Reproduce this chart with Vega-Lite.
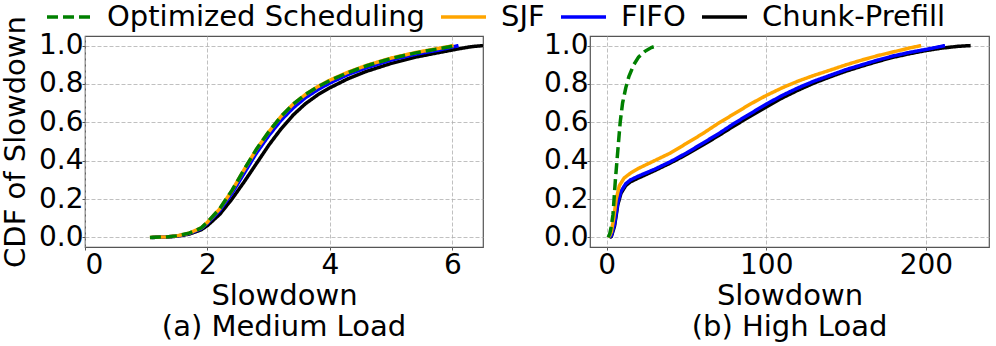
{
  "$schema": "https://vega.github.io/schema/vega-lite/v6.json",
  "padding": 0,
  "background": "white",
  "bounds": "flush",
  "spacing": 107,
  "config": {
    "font": "DejaVu Sans",
    "view": {"stroke": "#555555", "strokeWidth": 1.2},
    "axis": {
      "labelFont": "DejaVu Sans", "titleFont": "DejaVu Sans",
      "labelFontSize": 28, "titleFontSize": 29,
      "labelColor": "black", "titleColor": "black",
      "titleFontWeight": "normal",
      "grid": true, "gridColor": "#b0b0b0", "gridDash": [4, 2], "gridWidth": 0.8,
      "domain": false, "tickSize": 3, "tickColor": "#555555"
    },
    "axisX": {"labelPadding": 1},
    "axisY": {"labelPadding": -1},
    "title": {"font": "DejaVu Sans", "fontSize": 29, "fontWeight": "normal", "color": "black", "orient": "bottom", "anchor": "middle", "offset": 3},
    "legend": {
      "labelFont": "DejaVu Sans", "labelFontSize": 29, "labelColor": "black", "labelLimit": 0, "padding": 0
    }
  },
  "datasets": {
    "medium": [
      {"series": "Optimized Scheduling", "x": 1.06, "y": 0}, {"series": "Optimized Scheduling", "x": 1.3, "y": 0.002}, {"series": "Optimized Scheduling", "x": 1.5, "y": 0.008}, {"series": "Optimized Scheduling", "x": 1.7, "y": 0.022}, {"series": "Optimized Scheduling", "x": 1.9, "y": 0.05}, {"series": "Optimized Scheduling", "x": 2.0, "y": 0.08}, {"series": "Optimized Scheduling", "x": 2.2, "y": 0.15}, {"series": "Optimized Scheduling", "x": 2.4, "y": 0.245}, {"series": "Optimized Scheduling", "x": 2.6, "y": 0.355}, {"series": "Optimized Scheduling", "x": 2.8, "y": 0.46}, {"series": "Optimized Scheduling", "x": 3.0, "y": 0.55}, {"series": "Optimized Scheduling", "x": 3.2, "y": 0.63}, {"series": "Optimized Scheduling", "x": 3.4, "y": 0.695}, {"series": "Optimized Scheduling", "x": 3.6, "y": 0.745}, {"series": "Optimized Scheduling", "x": 3.8, "y": 0.785}, {"series": "Optimized Scheduling", "x": 4.0, "y": 0.818}, {"series": "Optimized Scheduling", "x": 4.3, "y": 0.86}, {"series": "Optimized Scheduling", "x": 4.6, "y": 0.895}, {"series": "Optimized Scheduling", "x": 5.0, "y": 0.933}, {"series": "Optimized Scheduling", "x": 5.4, "y": 0.962}, {"series": "Optimized Scheduling", "x": 5.8, "y": 0.985}, {"series": "Optimized Scheduling", "x": 6.05, "y": 1.0},
      {"series": "SJF", "x": 1.06, "y": 0}, {"series": "SJF", "x": 1.3, "y": 0.002}, {"series": "SJF", "x": 1.5, "y": 0.008}, {"series": "SJF", "x": 1.7, "y": 0.022}, {"series": "SJF", "x": 1.9, "y": 0.05}, {"series": "SJF", "x": 2.0, "y": 0.079}, {"series": "SJF", "x": 2.2, "y": 0.149}, {"series": "SJF", "x": 2.4, "y": 0.244}, {"series": "SJF", "x": 2.6, "y": 0.354}, {"series": "SJF", "x": 2.8, "y": 0.459}, {"series": "SJF", "x": 3.0, "y": 0.55}, {"series": "SJF", "x": 3.2, "y": 0.63}, {"series": "SJF", "x": 3.4, "y": 0.695}, {"series": "SJF", "x": 3.6, "y": 0.745}, {"series": "SJF", "x": 3.8, "y": 0.786}, {"series": "SJF", "x": 4.0, "y": 0.82}, {"series": "SJF", "x": 4.3, "y": 0.862}, {"series": "SJF", "x": 4.6, "y": 0.897}, {"series": "SJF", "x": 5.0, "y": 0.935}, {"series": "SJF", "x": 5.4, "y": 0.964}, {"series": "SJF", "x": 5.8, "y": 0.987}, {"series": "SJF", "x": 6.02, "y": 1.0},
      {"series": "FIFO", "x": 1.08, "y": 0}, {"series": "FIFO", "x": 1.3, "y": 0.002}, {"series": "FIFO", "x": 1.5, "y": 0.007}, {"series": "FIFO", "x": 1.7, "y": 0.02}, {"series": "FIFO", "x": 1.9, "y": 0.046}, {"series": "FIFO", "x": 2.0, "y": 0.074}, {"series": "FIFO", "x": 2.2, "y": 0.14}, {"series": "FIFO", "x": 2.4, "y": 0.23}, {"series": "FIFO", "x": 2.6, "y": 0.335}, {"series": "FIFO", "x": 2.8, "y": 0.44}, {"series": "FIFO", "x": 3.0, "y": 0.53}, {"series": "FIFO", "x": 3.2, "y": 0.61}, {"series": "FIFO", "x": 3.4, "y": 0.675}, {"series": "FIFO", "x": 3.6, "y": 0.728}, {"series": "FIFO", "x": 3.8, "y": 0.77}, {"series": "FIFO", "x": 4.0, "y": 0.805}, {"series": "FIFO", "x": 4.3, "y": 0.85}, {"series": "FIFO", "x": 4.6, "y": 0.885}, {"series": "FIFO", "x": 5.0, "y": 0.925}, {"series": "FIFO", "x": 5.4, "y": 0.955}, {"series": "FIFO", "x": 5.8, "y": 0.978}, {"series": "FIFO", "x": 6.1, "y": 1.0},
      {"series": "Chunk-Prefill", "x": 1.1, "y": 0}, {"series": "Chunk-Prefill", "x": 1.3, "y": 0.001}, {"series": "Chunk-Prefill", "x": 1.5, "y": 0.006}, {"series": "Chunk-Prefill", "x": 1.7, "y": 0.017}, {"series": "Chunk-Prefill", "x": 1.9, "y": 0.04}, {"series": "Chunk-Prefill", "x": 2.0, "y": 0.062}, {"series": "Chunk-Prefill", "x": 2.2, "y": 0.12}, {"series": "Chunk-Prefill", "x": 2.4, "y": 0.2}, {"series": "Chunk-Prefill", "x": 2.6, "y": 0.29}, {"series": "Chunk-Prefill", "x": 2.8, "y": 0.385}, {"series": "Chunk-Prefill", "x": 3.0, "y": 0.48}, {"series": "Chunk-Prefill", "x": 3.2, "y": 0.565}, {"series": "Chunk-Prefill", "x": 3.4, "y": 0.638}, {"series": "Chunk-Prefill", "x": 3.6, "y": 0.697}, {"series": "Chunk-Prefill", "x": 3.8, "y": 0.743}, {"series": "Chunk-Prefill", "x": 4.0, "y": 0.78}, {"series": "Chunk-Prefill", "x": 4.3, "y": 0.828}, {"series": "Chunk-Prefill", "x": 4.6, "y": 0.866}, {"series": "Chunk-Prefill", "x": 5.0, "y": 0.907}, {"series": "Chunk-Prefill", "x": 5.4, "y": 0.94}, {"series": "Chunk-Prefill", "x": 5.8, "y": 0.965}, {"series": "Chunk-Prefill", "x": 6.1, "y": 0.983}, {"series": "Chunk-Prefill", "x": 6.3, "y": 0.994}, {"series": "Chunk-Prefill", "x": 6.5, "y": 1.0}
    ],
    "high": [
      {"series": "Optimized Scheduling", "x": 1, "y": 0}, {"series": "Optimized Scheduling", "x": 2, "y": 0.02}, {"series": "Optimized Scheduling", "x": 3, "y": 0.06}, {"series": "Optimized Scheduling", "x": 4, "y": 0.12}, {"series": "Optimized Scheduling", "x": 4.5, "y": 0.18}, {"series": "Optimized Scheduling", "x": 5.5, "y": 0.3}, {"series": "Optimized Scheduling", "x": 6.5, "y": 0.4}, {"series": "Optimized Scheduling", "x": 7.5, "y": 0.5}, {"series": "Optimized Scheduling", "x": 8.5, "y": 0.6}, {"series": "Optimized Scheduling", "x": 10, "y": 0.7}, {"series": "Optimized Scheduling", "x": 12, "y": 0.78}, {"series": "Optimized Scheduling", "x": 14, "y": 0.84}, {"series": "Optimized Scheduling", "x": 17, "y": 0.9}, {"series": "Optimized Scheduling", "x": 20, "y": 0.94}, {"series": "Optimized Scheduling", "x": 24, "y": 0.97}, {"series": "Optimized Scheduling", "x": 28, "y": 0.99}, {"series": "Optimized Scheduling", "x": 32, "y": 1.0},
      {"series": "SJF", "x": 1, "y": 0}, {"series": "SJF", "x": 2, "y": 0.01}, {"series": "SJF", "x": 3, "y": 0.03}, {"series": "SJF", "x": 4.5, "y": 0.1}, {"series": "SJF", "x": 6, "y": 0.2}, {"series": "SJF", "x": 8, "y": 0.27}, {"series": "SJF", "x": 11, "y": 0.31}, {"series": "SJF", "x": 15, "y": 0.335}, {"series": "SJF", "x": 20, "y": 0.36}, {"series": "SJF", "x": 30, "y": 0.4}, {"series": "SJF", "x": 40, "y": 0.44}, {"series": "SJF", "x": 50, "y": 0.49}, {"series": "SJF", "x": 60, "y": 0.54}, {"series": "SJF", "x": 70, "y": 0.595}, {"series": "SJF", "x": 80, "y": 0.645}, {"series": "SJF", "x": 90, "y": 0.695}, {"series": "SJF", "x": 100, "y": 0.74}, {"series": "SJF", "x": 110, "y": 0.78}, {"series": "SJF", "x": 120, "y": 0.815}, {"series": "SJF", "x": 130, "y": 0.845}, {"series": "SJF", "x": 140, "y": 0.872}, {"series": "SJF", "x": 150, "y": 0.9}, {"series": "SJF", "x": 160, "y": 0.925}, {"series": "SJF", "x": 170, "y": 0.948}, {"series": "SJF", "x": 180, "y": 0.968}, {"series": "SJF", "x": 190, "y": 0.988}, {"series": "SJF", "x": 197, "y": 1.0},
      {"series": "FIFO", "x": 1.5, "y": 0}, {"series": "FIFO", "x": 3, "y": 0.01}, {"series": "FIFO", "x": 5, "y": 0.07}, {"series": "FIFO", "x": 7, "y": 0.18}, {"series": "FIFO", "x": 9, "y": 0.24}, {"series": "FIFO", "x": 12, "y": 0.28}, {"series": "FIFO", "x": 15, "y": 0.3}, {"series": "FIFO", "x": 20, "y": 0.32}, {"series": "FIFO", "x": 30, "y": 0.355}, {"series": "FIFO", "x": 40, "y": 0.395}, {"series": "FIFO", "x": 50, "y": 0.44}, {"series": "FIFO", "x": 60, "y": 0.49}, {"series": "FIFO", "x": 70, "y": 0.54}, {"series": "FIFO", "x": 80, "y": 0.595}, {"series": "FIFO", "x": 90, "y": 0.645}, {"series": "FIFO", "x": 100, "y": 0.695}, {"series": "FIFO", "x": 110, "y": 0.74}, {"series": "FIFO", "x": 120, "y": 0.78}, {"series": "FIFO", "x": 130, "y": 0.815}, {"series": "FIFO", "x": 140, "y": 0.845}, {"series": "FIFO", "x": 150, "y": 0.875}, {"series": "FIFO", "x": 160, "y": 0.9}, {"series": "FIFO", "x": 170, "y": 0.925}, {"series": "FIFO", "x": 180, "y": 0.947}, {"series": "FIFO", "x": 190, "y": 0.965}, {"series": "FIFO", "x": 200, "y": 0.98}, {"series": "FIFO", "x": 212, "y": 1.0},
      {"series": "Chunk-Prefill", "x": 2, "y": 0}, {"series": "Chunk-Prefill", "x": 3, "y": 0.005}, {"series": "Chunk-Prefill", "x": 5, "y": 0.06}, {"series": "Chunk-Prefill", "x": 7, "y": 0.17}, {"series": "Chunk-Prefill", "x": 9, "y": 0.23}, {"series": "Chunk-Prefill", "x": 12, "y": 0.27}, {"series": "Chunk-Prefill", "x": 15, "y": 0.29}, {"series": "Chunk-Prefill", "x": 20, "y": 0.31}, {"series": "Chunk-Prefill", "x": 30, "y": 0.348}, {"series": "Chunk-Prefill", "x": 40, "y": 0.388}, {"series": "Chunk-Prefill", "x": 50, "y": 0.432}, {"series": "Chunk-Prefill", "x": 60, "y": 0.48}, {"series": "Chunk-Prefill", "x": 70, "y": 0.53}, {"series": "Chunk-Prefill", "x": 80, "y": 0.582}, {"series": "Chunk-Prefill", "x": 90, "y": 0.632}, {"series": "Chunk-Prefill", "x": 100, "y": 0.68}, {"series": "Chunk-Prefill", "x": 110, "y": 0.727}, {"series": "Chunk-Prefill", "x": 120, "y": 0.768}, {"series": "Chunk-Prefill", "x": 130, "y": 0.805}, {"series": "Chunk-Prefill", "x": 140, "y": 0.837}, {"series": "Chunk-Prefill", "x": 150, "y": 0.867}, {"series": "Chunk-Prefill", "x": 160, "y": 0.893}, {"series": "Chunk-Prefill", "x": 170, "y": 0.918}, {"series": "Chunk-Prefill", "x": 180, "y": 0.94}, {"series": "Chunk-Prefill", "x": 190, "y": 0.958}, {"series": "Chunk-Prefill", "x": 200, "y": 0.974}, {"series": "Chunk-Prefill", "x": 210, "y": 0.987}, {"series": "Chunk-Prefill", "x": 220, "y": 0.996}, {"series": "Chunk-Prefill", "x": 228, "y": 1.0}
    ]
  },
  "resolve": {"scale": {"color": "shared", "strokeDash": "shared"}},
  "hconcat": [
    {
      "width": 398, "height": 211,
      "title": "(a) Medium Load",
      "data": {"name": "medium"},
      "encoding": {
        "x": {"field": "x", "type": "quantitative",
              "scale": {"domain": [0, 6.5], "nice": false, "zero": false},
              "axis": {"values": [0, 2, 4, 6], "title": "Slowdown", "titlePadding": 2}},
        "y": {"field": "y", "type": "quantitative",
              "scale": {"domain": [-0.05, 1.05], "nice": false, "zero": false},
              "axis": {"values": [0, 0.2, 0.4, 0.6, 0.8, 1.0], "format": ".1f", "title": "CDF of Slowdown", "titlePadding": 8}},
        "color": {"field": "series", "type": "nominal",
                  "scale": {"domain": ["Optimized Scheduling", "SJF", "FIFO", "Chunk-Prefill"], "range": ["#008000", "#FFA500", "#0000FF", "#000000"]},
                  "legend": {"title": null, "orient": "none", "direction": "horizontal", "legendX": -40, "legendY": -36, "symbolType": "stroke", "symbolSize": 2025, "symbolStrokeWidth": 3.5, "labelOffset": 13, "columnPadding": 14, "clipHeight": 34}},
        "strokeDash": {"field": "series", "type": "nominal",
                  "scale": {"domain": ["Optimized Scheduling", "SJF", "FIFO", "Chunk-Prefill"], "range": [[11, 5], [1, 0], [1, 0], [1, 0]]},
                  "legend": {"title": null, "orient": "none", "direction": "horizontal", "legendX": -40, "legendY": -36, "symbolType": "stroke", "symbolSize": 2025, "symbolStrokeWidth": 3.5, "labelOffset": 13, "columnPadding": 14, "clipHeight": 34}}
      },
      "layer": [
        {"transform": [{"filter": "datum.series === 'Chunk-Prefill'"}], "mark": {"type": "line", "strokeWidth": 3.5}},
        {"transform": [{"filter": "datum.series === 'FIFO'"}], "mark": {"type": "line", "strokeWidth": 3.5}},
        {"transform": [{"filter": "datum.series === 'SJF'"}], "mark": {"type": "line", "strokeWidth": 3.5}},
        {"transform": [{"filter": "datum.series === 'Optimized Scheduling'"}], "mark": {"type": "line", "strokeWidth": 3.5}}
      ]
    },
    {
      "width": 399, "height": 211,
      "title": "(b) High Load",
      "data": {"name": "high"},
      "encoding": {
        "x": {"field": "x", "type": "quantitative",
              "scale": {"domain": [-10.4, 239.5], "nice": false, "zero": false},
              "axis": {"values": [0, 100, 200], "title": "Slowdown", "titlePadding": 2}},
        "y": {"field": "y", "type": "quantitative",
              "scale": {"domain": [-0.05, 1.05], "nice": false, "zero": false},
              "axis": {"values": [0, 0.2, 0.4, 0.6, 0.8, 1.0], "format": ".1f", "title": null}},
        "color": {"field": "series", "type": "nominal"},
        "strokeDash": {"field": "series", "type": "nominal"}
      },
      "layer": [
        {"transform": [{"filter": "datum.series === 'Chunk-Prefill'"}], "mark": {"type": "line", "strokeWidth": 3.5}},
        {"transform": [{"filter": "datum.series === 'FIFO'"}], "mark": {"type": "line", "strokeWidth": 3.5}},
        {"transform": [{"filter": "datum.series === 'SJF'"}], "mark": {"type": "line", "strokeWidth": 3.5}},
        {"transform": [{"filter": "datum.series === 'Optimized Scheduling'"}], "mark": {"type": "line", "strokeWidth": 3.5}}
      ]
    }
  ]
}
